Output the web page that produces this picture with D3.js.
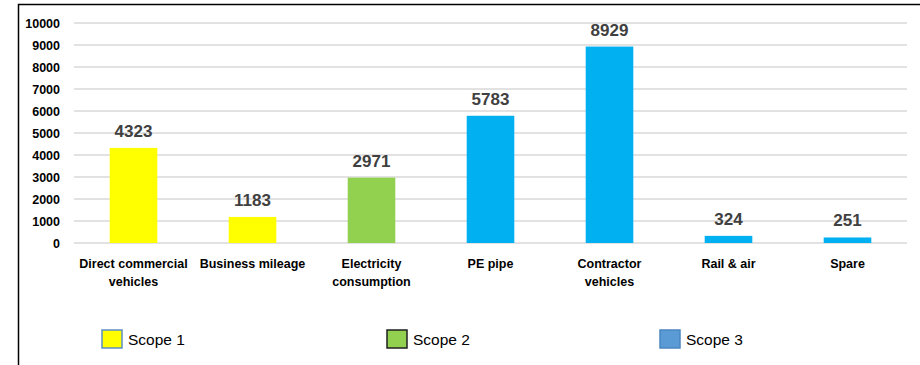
<!DOCTYPE html>
<html>
<head>
<meta charset="utf-8">
<script src="https://cdn.jsdelivr.net/npm/d3@7"></script>
<style>
  body { margin: 0; background: #fff; }
  svg { display: block; font-family: "Liberation Sans", Arial, sans-serif; }
  .y.axis text { font-size: 12.5px; font-weight: bold; fill: #000; }
  .cat { font-size: 12.5px; font-weight: bold; fill: #000; }
  .val { font-size: 17px; font-weight: bold; fill: #404040; }
  .leg { font-size: 15.5px; fill: #000; }
</style>
</head>
<body>
<svg width="920" height="365"></svg>
<script>
// **** Data ****
var categories = ['Direct commercial\nvehicles', 'Business mileage', 'Electricity\nconsumption',
  'PE pipe', 'Contractor\nvehicles', 'Rail & air', 'Spare'];
var values = [4323, 1183, 2971, 5783, 8929, 324, 251];
var scopes = ['Scope 1', 'Scope 1', 'Scope 2', 'Scope 3', 'Scope 3', 'Scope 3', 'Scope 3'];
var yTicks = [0, 1000, 2000, 3000, 4000, 5000, 6000, 7000, 8000, 9000, 10000];
var legendNames = ['Scope 1', 'Scope 2', 'Scope 3'];

var barColor = { 'Scope 1': '#ffff00', 'Scope 2': '#92d050', 'Scope 3': '#00b0f0' };
var legendFill = { 'Scope 1': '#ffff00', 'Scope 2': '#92d050', 'Scope 3': '#5b9bd5' };
var legendStroke = { 'Scope 1': '#5b8ec5', 'Scope 2': '#1f1f1f', 'Scope 3': '#4a86c0' };

var svg = d3.select('svg');

// frame (top + left edge only, as in the image)
svg.append('path')
  .attr('d', 'M18.5,365 V4.5 H920')
  .attr('fill', 'none')
  .attr('stroke', '#000')
  .attr('stroke-width', 1.5);

// **** Scales ****
var xScale = d3.scaleBand()
  .domain(categories)
  .range([74, 907])
  .paddingInner(0.6)
  .paddingOuter(0.3);

var yScale = d3.scaleLinear()
  .domain([0, 10000])
  .range([243, 23]);

// gridlines
svg.append('g').attr('class', 'grid')
  .selectAll('line')
  .data(yTicks)
  .enter()
  .append('line')
  .attr('x1', 74)
  .attr('x2', 907)
  .attr('y1', function (d) { return yScale(d); })
  .attr('y2', function (d) { return yScale(d); })
  .attr('stroke', '#d9d9d9')
  .attr('stroke-width', 1.3);

// y axis labels
var yAxis = svg.append('g').attr('class', 'y axis')
  .attr('transform', 'translate(66,0)')
  .call(d3.axisLeft(yScale).tickValues(yTicks).tickSize(0).tickPadding(6).tickFormat(d3.format('d')));
yAxis.select('.domain').remove();

// bars
svg.append('g').attr('class', 'bars')
  .selectAll('rect')
  .data(values)
  .enter()
  .append('rect')
  .attr('x', function (d, i) { return xScale(categories[i]); })
  .attr('y', function (d) { return yScale(d); })
  .attr('width', xScale.bandwidth())
  .attr('height', function (d) { return yScale(0) - yScale(d); })
  .attr('fill', function (d, i) { return barColor[scopes[i]]; });

// value labels
svg.append('g').attr('class', 'values')
  .selectAll('text')
  .data(values)
  .enter()
  .append('text')
  .attr('class', 'val')
  .attr('x', function (d, i) { return xScale(categories[i]) + xScale.bandwidth() / 2; })
  .attr('y', function (d) { return yScale(d) - 11; })
  .attr('text-anchor', 'middle')
  .text(function (d) { return d; });

// category labels
var catLabels = svg.append('g').attr('class', 'cats')
  .selectAll('text')
  .data(categories)
  .enter()
  .append('text')
  .attr('class', 'cat')
  .attr('text-anchor', 'middle')
  .attr('x', function (d) { return xScale(d) + xScale.bandwidth() / 2; })
  .attr('y', 268);

catLabels.selectAll('tspan')
  .data(function (d) { return d.split('\n'); })
  .enter()
  .append('tspan')
  .attr('x', function () { var p = this.parentNode; return p.getAttribute('x'); })
  .attr('dy', function (d, i) { return i === 0 ? 0 : 18; })
  .text(function (d) { return d; });

// legend
var legendX = [102, 387, 660];
var legend = svg.append('g').attr('class', 'legend')
  .selectAll('g')
  .data(legendNames)
  .enter()
  .append('g')
  .attr('transform', function (d, i) { return 'translate(' + legendX[i] + ',330)'; });

legend.append('rect')
  .attr('width', 20)
  .attr('height', 18)
  .attr('fill', function (d) { return legendFill[d]; })
  .attr('stroke', function (d) { return legendStroke[d]; })
  .attr('stroke-width', 1.5);

legend.append('text')
  .attr('class', 'leg')
  .attr('x', 26)
  .attr('y', 15)
  .text(function (d) { return d; });
</script>
</body>
</html>
